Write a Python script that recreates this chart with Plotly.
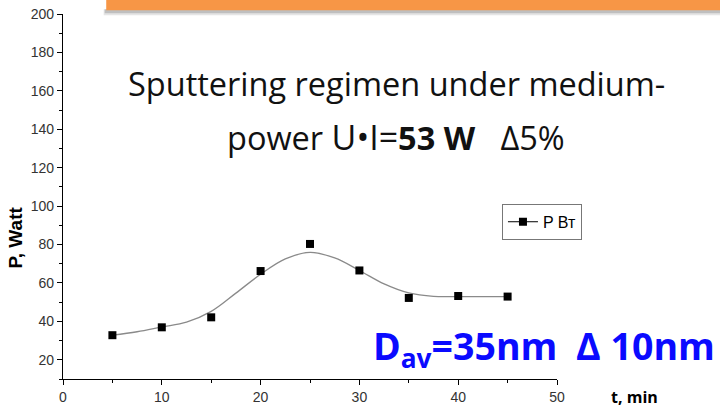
import plotly.graph_objects as go

# ---- data ----
t_min = [5, 10, 15, 20, 25, 30, 35, 40, 45]
p_watt = [32.8, 36.9, 42.1, 66.2, 80.3, 66.5, 52.2, 53.2, 52.9]
fit_t = [5, 7.5, 10, 12.5, 15, 17.5, 20, 22.5, 25, 27.5, 30, 32.5, 35, 37.5, 40, 42.5, 45]
fit_p = [32.8, 34.6, 37.1, 39.6, 45.2, 54.7, 64.5, 72.5, 75.9, 73.0, 66.5, 59.5, 54.8, 53.0, 52.9, 52.9, 52.9]
series_name = "P Вт"

W, H = 720, 411
# plot-area edges in pixels
L, R, T, B = 63.3, 557.0, 13.8, 379.5
PW, PH = R - L, B - T


def px(x):
    return (x - L) / PW


def py(y):
    return (B - y) / PH


fig = go.Figure()
fig.add_trace(go.Scatter(x=fit_t, y=fit_p, mode="lines", line=dict(color="#8a8a8a", width=1.3, shape="spline"),
                         showlegend=False, hoverinfo="skip"))
fig.add_trace(go.Scatter(x=t_min, y=p_watt, mode="markers", marker=dict(symbol="square", size=8, color="black"),
                         showlegend=False))
fig.add_trace(go.Scatter(x=[None], y=[None], mode="lines+markers", name=series_name,
                         line=dict(color="black", width=1), marker=dict(symbol="square", size=8, color="black")))

axfont = dict(family="Liberation Sans, Arial", size=14, color="#333333")
fig.update_xaxes(range=[0, 50], tick0=0, dtick=10, ticks="outside", ticklen=5, tickwidth=1.2, tickcolor="black",
                 showline=True, linecolor="black", linewidth=1.3, showgrid=False, zeroline=False, tickfont=axfont,
                 automargin=False, ticklabeloverflow="allow",
                 minor=dict(dtick=5, tick0=0, ticks="outside", ticklen=3, tickcolor="black", showgrid=False))
fig.update_yaxes(range=[10, 200], tick0=0, dtick=20, ticks="outside", ticklen=5, tickwidth=1.2, tickcolor="black",
                 showline=True, linecolor="black", linewidth=1.3, showgrid=False, zeroline=False, tickfont=axfont,
                 automargin=False, ticklabeloverflow="allow",
                 minor=dict(dtick=10, tick0=0, ticks="outside", ticklen=3, tickcolor="black", showgrid=False))

shapes = [
    # slide header bar with its shadow
    dict(type="rect", xref="paper", yref="paper", x0=px(104), x1=px(730), y0=py(15), y1=py(9),
         fillcolor="rgba(150,150,150,0.25)", line=dict(width=0), layer="above"),
    dict(type="rect", xref="paper", yref="paper", x0=px(105), x1=px(730), y0=py(13), y1=py(9),
         fillcolor="rgba(120,120,120,0.35)", line=dict(width=0), layer="above"),
    dict(type="rect", xref="paper", yref="paper", x0=px(106.5), x1=px(730), y0=py(10), y1=py(-10),
         fillcolor="#F79646", line=dict(width=0), layer="above"),
]
fig.update_layout(shapes=shapes)

title_font = "Open Sans, Lato, sans-serif"
ann = []


def text(x, y, s, size, color, family, xanchor="center"):
    ann.append(dict(x=px(x), y=py(y), xref="paper", yref="paper", text=s, showarrow=False,
                    xanchor=xanchor, yanchor="middle", font=dict(size=size, color=color, family=family)))


text(397, 83, "Sputtering regimen under medium-", 32.5, "#111111", title_font)
text(396, 137, "power <span style='font-size:34px'>U•I=</span><b>53 W</b>\u00a0\u00a0\u00a0Δ5%", 32.5, "#111111", title_font)
text(371, 348, "<b>D<sub>av</sub>=35nm\u2002Δ 10nm</b>", 37.5, "#0a0aff", title_font, xanchor="left")

ann.append(dict(x=px(16), y=py(238), xref="paper", yref="paper", text="<b>P, Watt</b>", textangle=-90,
                showarrow=False, xanchor="center", yanchor="middle",
                font=dict(size=19, color="black", family="Liberation Sans, Arial")))
ann.append(dict(x=px(609), y=py(398), xref="paper", yref="paper", text="<b>t, min</b>", showarrow=False,
                xanchor="left", yanchor="middle", font=dict(size=16, color="black", family="Open Sans, sans-serif")))
fig.update_layout(annotations=ann)

fig.update_layout(
    template="none",
    width=W, height=H,
    margin=dict(l=L, r=W - R, t=T, b=H - B, pad=0, autoexpand=False),
    paper_bgcolor="white", plot_bgcolor="white",
    legend=dict(x=px(502), y=py(204), xanchor="left", yanchor="top", bordercolor="#777777", borderwidth=1,
                bgcolor="white", font=dict(family="Liberation Sans, Arial", size=16, color="black"),
                tracegroupgap=0, itemwidth=30),
)

fig.write_html("out.html", config={"displayModeBar": False},
               post_script="document.body.style.margin='0px';document.body.style.padding='0px';")
